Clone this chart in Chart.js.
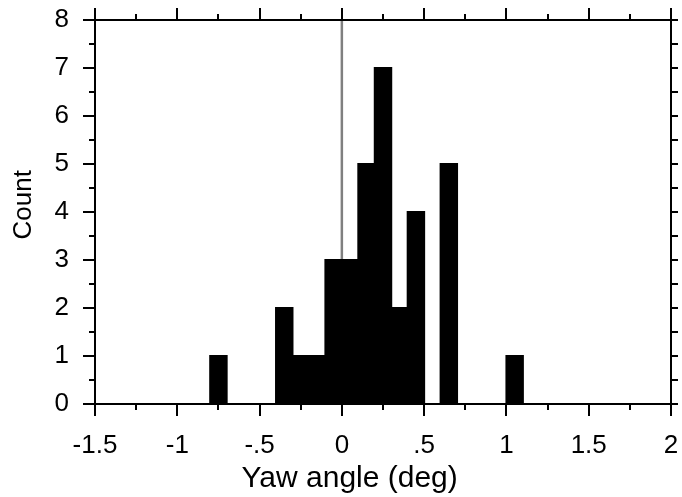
<!DOCTYPE html>
<html>
<head>
<meta charset="utf-8">
<title>Yaw angle histogram</title>
<script src="https://cdn.jsdelivr.net/npm/chart.js@4"></script>
<style>
    html, body { margin: 0; padding: 0; background: #fff; }
    #wrap { width: 682px; height: 497px; position: relative; }
</style>
</head>
<body>
<div id="wrap"><canvas id="yaw-chart"></canvas></div>
<script>
// Histogram data: bin centres (deg) and counts
const binCenters = [-0.75, -0.35, -0.25, -0.15, -0.05, 0.05, 0.15, 0.25, 0.35, 0.45, 0.65, 1.05];
const binCounts = [1, 2, 1, 1, 3, 3, 5, 7, 2, 4, 5, 1];

// Axis ticks
const xTickValues = [-1.5, -1, -0.5, 0, 0.5, 1, 1.5, 2];
const xTickLabels = ['-1.5', '-1', '-.5', '0', '.5', '1', '1.5', '2'];
const xMinorTicks = [-1.25, -0.75, -0.25, 0.25, 0.75, 1.25, 1.75];
const yTickValues = [0, 1, 2, 3, 4, 5, 6, 7, 8];
const yMinorTicks = [0.5, 1.5, 2.5, 3.5, 4.5, 5.5, 6.5, 7.5];

// Reference line at zero yaw
const zeroLine = [{ x: 0, y: 0 }, { x: 0, y: 8 }];

const FONT = '"Liberation Sans", Arial, Helvetica, sans-serif';

document.addEventListener('DOMContentLoaded', function() {
    const canvas = document.getElementById('yaw-chart');

    /**
     * Draws the box round the plot and the outward tick marks on all four sides
     */
    const frameTicks = {
        id: 'frameTicks',
        afterDraw(chart) {
            const { ctx, chartArea: a, scales: { x, y } } = chart;
            const MAJOR = 12, MINOR = 6, RIGHT = 7;
            ctx.save();
            ctx.strokeStyle = '#000';
            ctx.lineWidth = 2;
            ctx.strokeRect(a.left, a.top, a.right - a.left, a.bottom - a.top);
            ctx.beginPath();
            const xTick = (v, len) => {
                const px = Math.round(x.getPixelForValue(v));
                ctx.moveTo(px, a.bottom);
                ctx.lineTo(px, a.bottom + len);
                ctx.moveTo(px, a.top);
                ctx.lineTo(px, a.top - len);
            };
            xTickValues.forEach(v => xTick(v, MAJOR));
            xMinorTicks.forEach(v => xTick(v, MINOR));
            yTickValues.forEach(v => {
                const py = Math.round(y.getPixelForValue(v));
                ctx.moveTo(a.left, py);
                ctx.lineTo(a.left - MAJOR, py);
                ctx.moveTo(a.right, py);
                ctx.lineTo(a.right + RIGHT, py);
            });
            yMinorTicks.forEach(v => {
                const py = Math.round(y.getPixelForValue(v));
                ctx.moveTo(a.left, py);
                ctx.lineTo(a.left - MINOR, py);
                ctx.moveTo(a.right, py);
                ctx.lineTo(a.right + RIGHT, py);
            });
            ctx.stroke();
            ctx.restore();
        }
    };

    new Chart(canvas, {
        type: 'bar',
        data: {
            datasets: [
                {
                    type: 'bar',
                    data: binCenters.map((c, i) => ({ x: c, y: binCounts[i] })),
                    backgroundColor: '#000',
                    borderWidth: 0,
                    inflateAmount: 1,
                    barPercentage: 1.0,
                    categoryPercentage: 1.0,
                    order: 0
                },
                {
                    type: 'line',
                    data: zeroLine,
                    borderColor: '#808080',
                    borderWidth: 2.5,
                    pointRadius: 0,
                    fill: false,
                    order: 1
                }
            ]
        },
        options: {
            responsive: true,
            maintainAspectRatio: false,
            animation: false,
            layout: { padding: { top: 20, right: 11, left: 0, bottom: 0 } },
            plugins: {
                legend: { display: false },
                tooltip: { enabled: false }
            },
            scales: {
                x: {
                    type: 'linear',
                    min: -1.5,
                    max: 2,
                    offset: false,
                    grid: { display: false, drawTicks: false, offset: false },
                    border: { display: false },
                    afterBuildTicks: function(scale) {
                        scale.ticks = xTickValues.map(v => ({ value: v }));
                    },
                    afterFit: function(scale) {
                        // fixed axis height, no extra room for label overhang
                        scale.height = 93;
                        scale.paddingLeft = 0;
                        scale.paddingRight = 0;
                    },
                    ticks: {
                        padding: 26,
                        color: '#000',
                        maxRotation: 0,
                        autoSkip: false,
                        font: { family: FONT, size: 26 },
                        callback: function(value) {
                            const i = xTickValues.indexOf(value);
                            return i >= 0 ? xTickLabels[i] : '';
                        }
                    },
                    title: {
                        display: true,
                        // trailing spaces nudge the centred title a little to the left
                        text: 'Yaw angle (deg)        ',
                        color: '#000',
                        font: { family: FONT, size: 30 },
                        padding: { top: 0, bottom: 0 }
                    }
                },
                y: {
                    type: 'linear',
                    min: 0,
                    max: 8,
                    grid: { display: false, drawTicks: false },
                    border: { display: false },
                    afterFit: function(scale) {
                        scale.width = 95;
                        scale.paddingTop = 0;
                        scale.paddingBottom = 0;
                    },
                    ticks: {
                        stepSize: 1,
                        padding: 26,
                        color: '#000',
                        font: { family: FONT, size: 26 }
                    },
                    title: {
                        display: true,
                        text: '  Count',
                        color: '#000',
                        font: { family: FONT, size: 26 },
                        padding: { top: 8, bottom: 0 }
                    }
                }
            }
        },
        plugins: [frameTicks]
    });
});
</script>
</body>
</html>
